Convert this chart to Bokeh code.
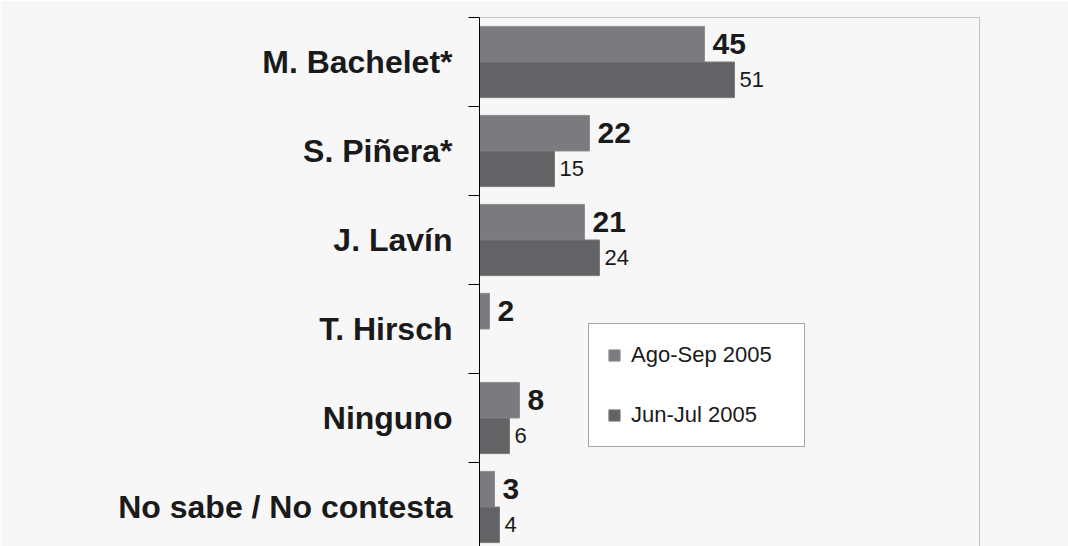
from bokeh.plotting import figure
from bokeh.models import Range1d, FixedTicker, Span, Legend, LegendItem, ColumnDataSource
from bokeh.core.properties import value
from bokeh.embed import file_html
from bokeh.resources import INLINE

# ---- data ----
candidates = ["M. Bachelet*", "S. Piñera*", "J. Lavín", "T. Hirsch", "Ninguno", "No sabe / No contesta"]
ago_sep_2005 = [45, 22, 21, 2, 8, 3]
jun_jul_2005 = [51, 15, 24, None, 6, 4]
series_names = ["Ago-Sep 2005", "Jun-Jul 2005"]
x_max = 100

# ---- layout ----
W, H = 1068, 546
b_left, b_top, b_right, b_bottom = 479, 17, 89, 0
band_px = 89
frame_h = H - b_top - b_bottom
n = len(candidates)
y_end = n
y_start = n - frame_h / band_px
bar_h = 0.4

centers = [n - 0.5 - i for i in range(n)]

ago_src = ColumnDataSource(dict(
    y=[c + bar_h / 2 for c in centers],
    v=ago_sep_2005,
    lbl=[str(v) for v in ago_sep_2005],
))
jy, jv = [], []
for c, v in zip(centers, jun_jul_2005):
    if v is not None:
        jy.append(c - bar_h / 2)
        jv.append(v)
jun_src = ColumnDataSource(dict(y=jy, v=jv, lbl=[str(v) for v in jv]))

BG = "#f7f7f7"
C_AGO = "#7b7b7f"
C_JUN = "#636365"
TXT = "#1a1a1a"
FONT = "Liberation Sans"

p = figure(width=W, height=H,
           x_range=Range1d(0, x_max), y_range=Range1d(y_start, y_end),
           output_backend="svg", toolbar_location=None,
           min_border_left=b_left, min_border_top=b_top,
           min_border_right=b_right, min_border_bottom=b_bottom,
           background_fill_color=BG, border_fill_color=BG,
           outline_line_color=None)

p.xaxis.visible = False
p.xgrid.visible = False
p.ygrid.visible = False

r1 = p.hbar(y="y", left=0, right="v", height=bar_h, source=ago_src,
            fill_color=C_AGO, line_color="#8e8e92", line_width=1)
r2 = p.hbar(y="y", left=0, right="v", height=bar_h, source=jun_src,
            fill_color=C_JUN, line_color="#7a7a7c", line_width=1)

p.text(x="v", y="y", text="lbl", source=ago_src, x_offset=8,
       text_baseline="middle", text_align="left",
       text_font=value(FONT), text_font_size="30px", text_font_style="bold",
       text_color=TXT)
p.text(x="v", y="y", text="lbl", source=jun_src, x_offset=5,
       text_baseline="middle", text_align="left",
       text_font=value(FONT), text_font_size="22px", text_font_style="normal",
       text_color=TXT)

ax = p.yaxis[0]
ax.ticker = FixedTicker(ticks=centers, minor_ticks=list(range(1, n + 1)))
ax.major_label_overrides = {c: name for c, name in zip(centers, candidates)}
ax.major_tick_out = 0
ax.major_tick_in = 0
ax.minor_tick_out = 11
ax.minor_tick_in = 0
ax.axis_line_color = "black"
ax.minor_tick_line_color = "black"
ax.major_label_standoff = 16
ax.major_label_text_font = FONT
ax.major_label_text_font_size = "32px"
ax.major_label_text_font_style = "bold"
ax.major_label_text_color = TXT

p.add_layout(Span(location=y_end, dimension="width", line_color="#8c8c90", line_width=1))
p.add_layout(Span(location=x_max, dimension="height", line_color="#8c8c90", line_width=1))

legend = Legend(items=[LegendItem(label=series_names[0], renderers=[r1]),
                       LegendItem(label=series_names[1], renderers=[r2])],
                location=(109, 99), orientation="vertical",
                padding=18, spacing=34, margin=0,
                glyph_width=14, glyph_height=14, label_height=22, label_standoff=10,
                label_width=155,
                label_text_font=FONT, label_text_font_size="22px", label_text_color=TXT,
                border_line_color="#505050", border_line_width=1,
                background_fill_color="white", background_fill_alpha=1.0)
p.add_layout(legend, "center")

open("out.html", "w").write(file_html(p, INLINE))
